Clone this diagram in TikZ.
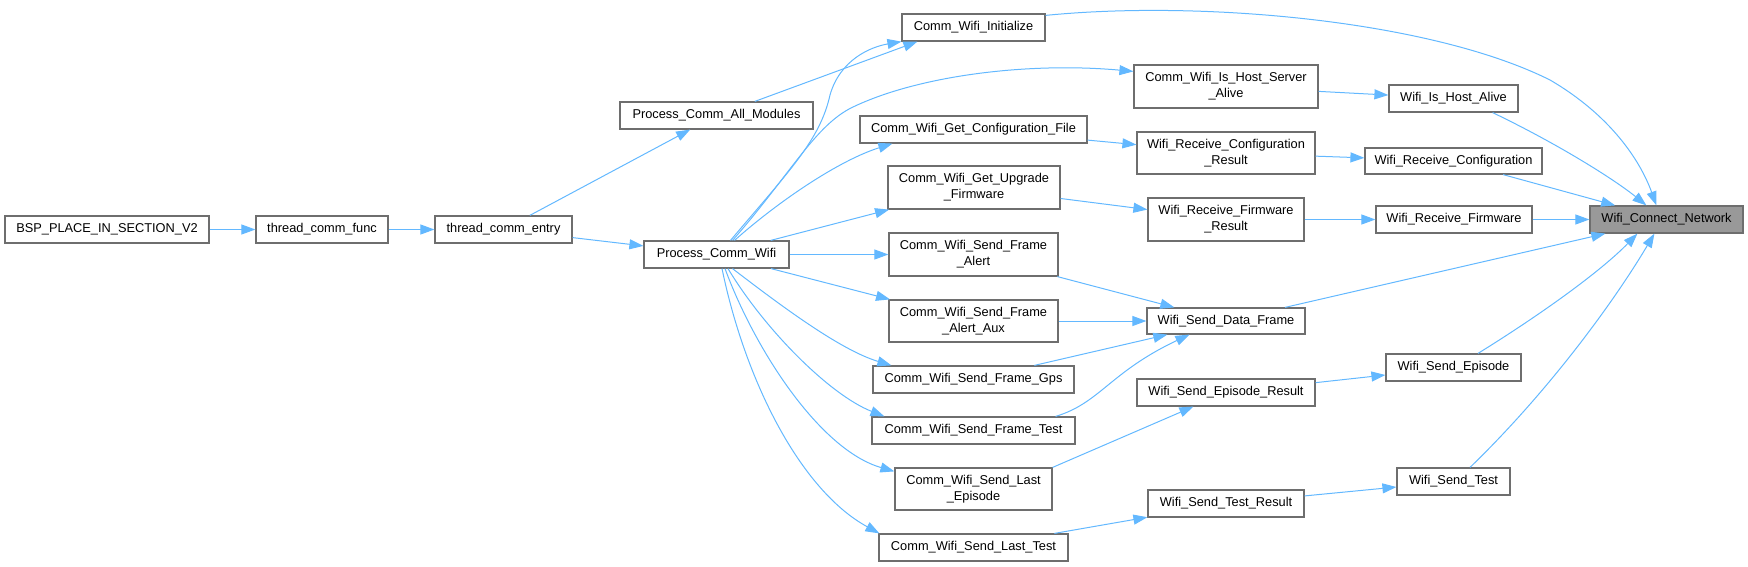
\documentclass[tikz,border=0pt]{standalone}
\usepackage{fontspec}
\setmainfont{Liberation Sans}
\usetikzlibrary{arrows.meta,calc}
\definecolor{edgec}{HTML}{63B8FF}
\definecolor{boxc}{HTML}{6E6E6E}
\definecolor{hlfill}{HTML}{999999}
\tikzset{
  box/.style={draw=boxc, line width=0.9pt, fill=white, inner sep=0pt, align=center,
    font=\fontsize{9.6}{12}\selectfont, text=black},
  cedge/.style={draw=edgec, line width=0.75pt, -{Triangle[length=10.5pt,width=7.5pt]}},
}
\newcommand\bx[7][]{%
  \pgfmathsetmacro\bxw{(#5-#3)*0.75}%
  \pgfmathsetmacro\bxh{(#6-#4)*0.75}%
  \node[box,minimum width=\bxw pt,minimum height=\bxh pt,#1] (#2) at ({(#3+#5)/2},{(#4+#6)/2}) {#7};}
\begin{document}
\begin{tikzpicture}[x=0.75pt,y=-0.75pt]
\useasboundingbox (0,0) rectangle (1748,567);
% nodes
\bx{bsp}{5}{216}{209}{243}{BSP\_PLACE\_IN\_SECTION\_V2}
\bx{tcf}{256}{216}{388}{243}{thread\_comm\_func}
\bx{tce}{435}{216}{572}{243}{thread\_comm\_entry}
\bx{pcam}{620}{102}{813}{129}{Process\_Comm\_All\_Modules}
\bx{pcw}{644}{241}{789}{268}{Process\_Comm\_Wifi}
\bx{cwi}{902}{14}{1045}{41}{Comm\_Wifi\_Initialize}
\bx{cwihsa}{1134}{65}{1318}{108}{Comm\_Wifi\_Is\_Host\_Server\\\_Alive}
\bx{cwgcf}{860}{116}{1087}{143}{Comm\_Wifi\_Get\_Configuration\_File}
\bx{cwguf}{888}{166}{1060}{209}{Comm\_Wifi\_Get\_Upgrade\\\_Firmware}
\bx{cwsfa}{889}{233}{1058}{276}{Comm\_Wifi\_Send\_Frame\\\_Alert}
\bx{cwsfaa}{889}{300}{1058}{342}{Comm\_Wifi\_Send\_Frame\\\_Alert\_Aux}
\bx{cwsfg}{873}{366}{1074}{393}{Comm\_Wifi\_Send\_Frame\_Gps}
\bx{cwsft}{872}{417}{1075}{444}{Comm\_Wifi\_Send\_Frame\_Test}
\bx{cwsle}{895}{468}{1052}{510}{Comm\_Wifi\_Send\_Last\\\_Episode}
\bx{cwslt}{879}{534}{1068}{561}{Comm\_Wifi\_Send\_Last\_Test}
\bx{wrcr}{1137}{132}{1315}{174}{Wifi\_Receive\_Configuration\\\_Result}
\bx{wrfr}{1148}{198}{1304}{241}{Wifi\_Receive\_Firmware\\\_Result}
\bx{wsdf}{1147}{308}{1305}{334}{Wifi\_Send\_Data\_Frame}
\bx{wser}{1137}{379}{1315}{406}{Wifi\_Send\_Episode\_Result}
\bx{wstr}{1148}{490}{1304}{517}{Wifi\_Send\_Test\_Result}
\bx{wiha}{1389}{85}{1518}{112}{Wifi\_Is\_Host\_Alive}
\bx{wrc}{1365}{148}{1542}{174}{Wifi\_Receive\_Configuration}
\bx{wrf}{1376}{206}{1532}{233}{Wifi\_Receive\_Firmware}
\bx{wse}{1386}{354}{1521}{381}{Wifi\_Send\_Episode}
\bx{wst}{1397}{468}{1510}{495}{Wifi\_Send\_Test}
\bx[fill=hlfill]{wcn}{1590}{206}{1743}{233}{Wifi\_Connect\_Network}
% edges
\draw[cedge] (bsp) -- (tcf);
\draw[cedge] (tcf) -- (tce);
\draw[cedge] (tce) -- (pcam);
\draw[cedge] (tce) -- (pcw);
\draw[cedge] (pcam) -- ($(cwi.south west)+(16,0)$);
\draw[cedge] ($(pcw.north)+(14,0)$) .. controls (790,170) and (820,140) .. (830,95)
  .. controls (840,60) and (870,47) .. (cwi.south west);
\draw[cedge] ($(pcw.north)+(16,0)$) .. controls (790,175) and (815,125) .. (853,107)
  .. controls (920,75) and (1030,62) .. ($(cwihsa.north west)+(0,7)$);
\draw[cedge] ($(pcw.north)+(18,0)$) .. controls (780,200) and (840,160) .. ($(cwgcf.south west)+(33,0)$);
\draw[cedge] (pcw) -- (cwguf);
\draw[cedge] (pcw) -- (cwsfa);
\draw[cedge] (pcw) -- (cwsfaa);
\draw[cedge] ($(pcw.south)+(16,0)$) .. controls (780,305) and (840,350) .. ($(cwsfg.north west)+(19,0)$);
\draw[cedge] ($(pcw.south)+(11.5,0)$) .. controls (765,330) and (830,395) .. ($(cwsft.north west)+(13,0)$);
\draw[cedge] ($(pcw.south)+(8.5,0)$) .. controls (755,350) and (820,450) .. ($(cwsle.north west)+(0,4)$);
\draw[cedge] ($(pcw.south)+(5.5,0)$) .. controls (745,380) and (800,490) .. ($(cwslt.north west)+(1,0)$);
\draw[cedge] ($(cwi.north east)+(0,2)$) .. controls (1200,0) and (1430,20) .. (1550,80)
  .. controls (1610,115) and (1640,160) .. ($(wcn.north west)+(67,0)$);
\draw[cedge] (cwihsa) -- (wiha);
\draw[cedge] (cwgcf) -- (wrcr);
\draw[cedge] (cwguf) -- (wrfr);
\draw[cedge] (cwsfa) -- (wsdf);
\draw[cedge] (cwsfaa) -- (wsdf);
\draw[cedge] (cwsfg) -- (wsdf);
\draw[cedge] ($(cwsft.north east)+(-20,0)$) .. controls (1100,403) and (1110,372) .. ($(wsdf.south west)+(43,0)$);
\draw[cedge] (cwsle.north east) -- (wser);
\draw[cedge] (cwslt) -- (wstr);
\draw[cedge] ($(wiha.south east)+(-26,0)$) .. controls (1560,145) and (1615,180) .. ($(wcn.north west)+(57,0)$);
\draw[cedge] (wrcr) -- (wrc);
\draw[cedge] (wrc) -- (wcn);
\draw[cedge] (wrfr) -- (wrf);
\draw[cedge] (wrf) -- (wcn);
\draw[cedge] (wsdf) -- (wcn);
\draw[cedge] (wser) -- (wse);
\draw[cedge] ($(wse.north)+(24.5,0)$) .. controls (1540,315) and (1600,272) .. ($(wcn.south west)+(48,0)$);
\draw[cedge] (wstr) -- (wst);
\draw[cedge] ($(wst.north)+(16.5,0)$) .. controls (1550,390) and (1615,300) .. ($(wcn.south west)+(65,0)$);
\end{tikzpicture}
\end{document}
